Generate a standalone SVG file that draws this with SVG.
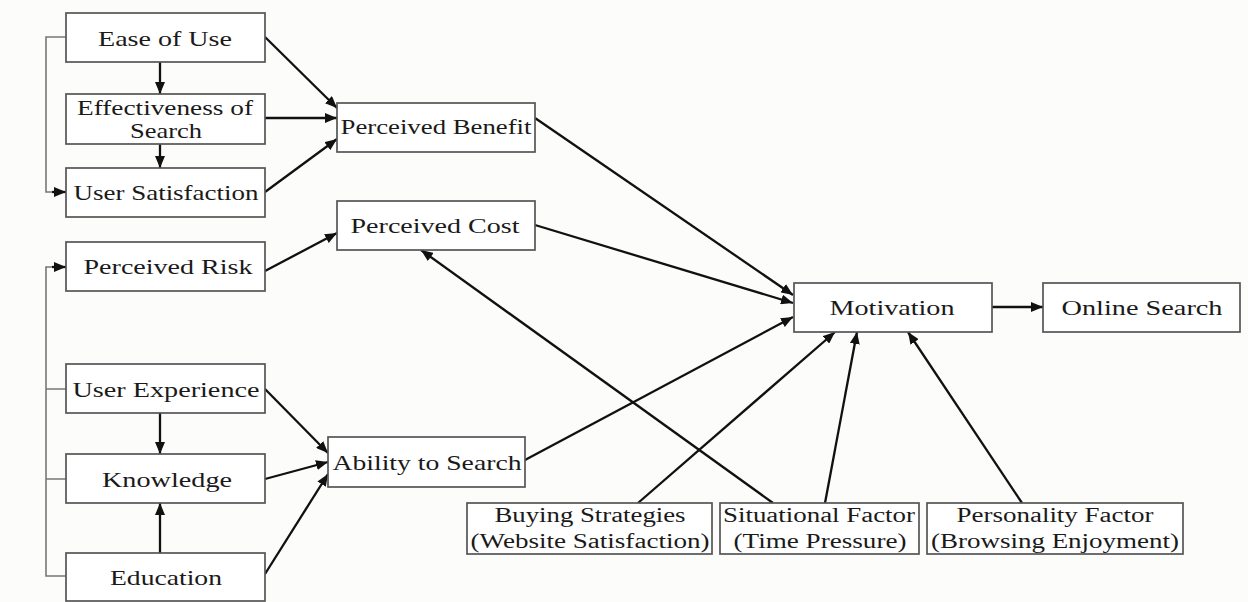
<svg xmlns="http://www.w3.org/2000/svg" width="1248" height="602" viewBox="0 0 1248 602">
<style>
.box{fill:#fff;stroke:#555;stroke-width:1.7}
.t{font-family:"Liberation Serif","Times New Roman",serif;font-size:22px;fill:#1a1a1a;text-anchor:middle}
.s{font-family:"Liberation Serif","Times New Roman",serif;font-size:20px;fill:#1a1a1a;text-anchor:middle}
.c{fill:none;stroke:#111;stroke-width:2.3}
.g{fill:none;stroke:#777;stroke-width:1.6}
</style>
<defs>
<marker id="a" markerUnits="userSpaceOnUse" markerWidth="12" markerHeight="10" refX="12" refY="5" orient="auto">
<path d="M0,0 L12,5 L0,10 z" fill="#111"/>
</marker>
</defs>
<rect width="1248" height="602" fill="#fcfcfa"/>
<g id="connectors">
<path class="g" d="M66,37 H46 V192 H55"/>
<path class="c" d="M52,192 H66" marker-end="url(#a)"/>
<path class="g" d="M66,576 H46 V267 H55"/>
<path class="c" d="M52,267 H66" marker-end="url(#a)"/>
<path class="g" d="M46,389 H66 M46,479 H66"/>
<path class="c" d="M265,37 L337,108" marker-end="url(#a)"/>
<path class="c" d="M265,118 L337,118" marker-end="url(#a)"/>
<path class="c" d="M265,192 L337,139" marker-end="url(#a)"/>
<path class="c" d="M265,271 L337,233" marker-end="url(#a)"/>
<path class="c" d="M535,118 L793,295" marker-end="url(#a)"/>
<path class="c" d="M535,225 L793,303" marker-end="url(#a)"/>
<path class="c" d="M525,460 L793,317" marker-end="url(#a)"/>
<path class="c" d="M265,389 L328,453" marker-end="url(#a)"/>
<path class="c" d="M265,479 L328,462" marker-end="url(#a)"/>
<path class="c" d="M265,574 L328,474" marker-end="url(#a)"/>
<path class="c" d="M638,503 L835,332" marker-end="url(#a)"/>
<path class="c" d="M825,503 L857,332" marker-end="url(#a)"/>
<path class="c" d="M773,503 L421,250" marker-end="url(#a)"/>
<path class="c" d="M1022,503 L908,332" marker-end="url(#a)"/>
<path class="c" d="M992,307 L1043,307" marker-end="url(#a)"/>
<path class="c" d="M160,62 L160,94" marker-end="url(#a)"/>
<path class="c" d="M160,144 L160,168" marker-end="url(#a)"/>
<path class="c" d="M160,413 L160,454" marker-end="url(#a)"/>
<path class="c" d="M160,553 L160,503" marker-end="url(#a)"/>
</g>
<g id="ease"><rect class="box" x="66" y="13" width="199" height="49"/><text class="t" x="165" y="46" textLength="134" lengthAdjust="spacingAndGlyphs">Ease of Use</text></g>
<g id="effectiveness"><rect class="box" x="66" y="94" width="199" height="50"/><text class="t" x="165" y="115" textLength="176" lengthAdjust="spacingAndGlyphs">Effectiveness of</text><text class="t" x="166" y="138" textLength="72" lengthAdjust="spacingAndGlyphs">Search</text></g>
<g id="usersat"><rect class="box" x="66" y="168" width="199" height="49"/><text class="t" x="166" y="200" textLength="185" lengthAdjust="spacingAndGlyphs">User Satisfaction</text></g>
<g id="risk"><rect class="box" x="66" y="242" width="199" height="49"/><text class="t" x="168" y="274" textLength="169" lengthAdjust="spacingAndGlyphs">Perceived Risk</text></g>
<g id="userexp"><rect class="box" x="66" y="364" width="199" height="49"/><text class="t" x="166" y="397" textLength="187" lengthAdjust="spacingAndGlyphs">User Experience</text></g>
<g id="knowledge"><rect class="box" x="66" y="454" width="199" height="49"/><text class="t" x="167" y="487" textLength="130" lengthAdjust="spacingAndGlyphs">Knowledge</text></g>
<g id="education"><rect class="box" x="66" y="553" width="199" height="48"/><text class="t" x="166" y="585" textLength="112" lengthAdjust="spacingAndGlyphs">Education</text></g>
<g id="benefit"><rect class="box" x="337" y="103" width="198" height="49"/><text class="t" x="436" y="134" textLength="191" lengthAdjust="spacingAndGlyphs">Perceived Benefit</text></g>
<g id="cost"><rect class="box" x="337" y="201" width="198" height="49"/><text class="t" x="435" y="233" textLength="169" lengthAdjust="spacingAndGlyphs">Perceived Cost</text></g>
<g id="ability"><rect class="box" x="328" y="437" width="197" height="50"/><text class="t" x="427" y="470" textLength="189" lengthAdjust="spacingAndGlyphs">Ability to Search</text></g>
<g id="motivation"><rect class="box" x="794" y="283" width="198" height="49"/><text class="t" x="892" y="315" textLength="125" lengthAdjust="spacingAndGlyphs">Motivation</text></g>
<g id="online"><rect class="box" x="1043" y="283" width="197" height="49"/><text class="t" x="1142" y="315" textLength="161" lengthAdjust="spacingAndGlyphs">Online Search</text></g>
<g id="buying"><rect class="box" x="467" y="503" width="245" height="51"/><text class="s" x="590" y="522" textLength="191" lengthAdjust="spacingAndGlyphs">Buying Strategies</text><text class="s" x="590" y="548" textLength="239" lengthAdjust="spacingAndGlyphs">(Website Satisfaction)</text></g>
<g id="situational"><rect class="box" x="720" y="503" width="199" height="51"/><text class="s" x="819" y="522" textLength="192" lengthAdjust="spacingAndGlyphs">Situational Factor</text><text class="s" x="820" y="548" textLength="173" lengthAdjust="spacingAndGlyphs">(Time Pressure)</text></g>
<g id="personality"><rect class="box" x="927" y="503" width="256" height="51"/><text class="s" x="1055" y="522" textLength="197" lengthAdjust="spacingAndGlyphs">Personality Factor</text><text class="s" x="1055" y="548" textLength="248" lengthAdjust="spacingAndGlyphs">(Browsing Enjoyment)</text></g>
</svg>
